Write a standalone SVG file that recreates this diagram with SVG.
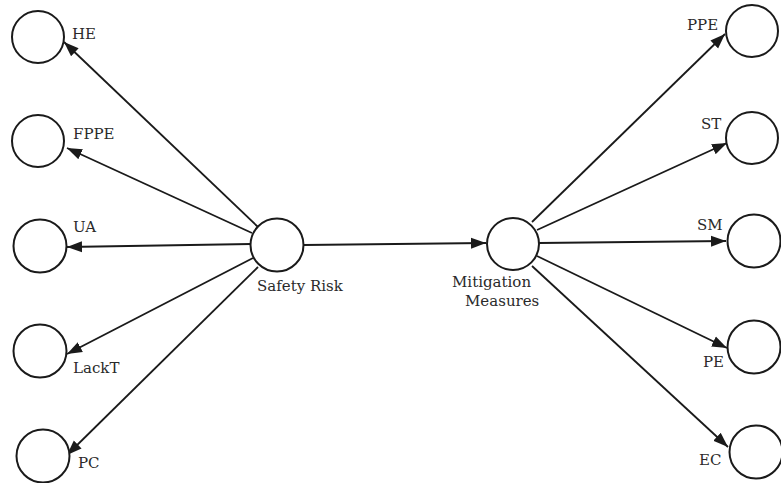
<svg xmlns="http://www.w3.org/2000/svg" width="781" height="483" viewBox="0 0 781 483">
  <style>
    .node circle { fill: #ffffff; stroke: #1a1a1a; stroke-width: 2; }
    .node text { font-family: "DejaVu Serif", "Liberation Serif", serif; font-size: 15px; fill: #2a2a2a; }
    #connectors line { stroke: #1a1a1a; stroke-width: 1.8; marker-end: url(#arrow); }
  </style>
  <defs>
    <marker id="arrow" markerUnits="userSpaceOnUse" markerWidth="16" markerHeight="12" viewBox="0 0 16 12" refX="15" refY="6" orient="auto">
      <path d="M0,0.5 L15,6 L0,11.5 Z" fill="#1a1a1a"/>
    </marker>
  </defs>

  <rect width="781" height="483" fill="#ffffff"/>

  <!-- Connectors -->
  <g id="connectors">
    <line x1="258" y1="227" x2="64" y2="42"/>
    <line x1="252" y1="233" x2="67" y2="148"/>
    <line x1="251" y1="244" x2="67" y2="247"/>
    <line x1="253" y1="258" x2="67" y2="354"/>
    <line x1="258" y1="267" x2="67" y2="455"/>
    <line x1="304" y1="245" x2="486" y2="243"/>
    <line x1="532" y1="222" x2="725" y2="34"/>
    <line x1="537" y1="230" x2="727" y2="143"/>
    <line x1="539" y1="243" x2="726" y2="241"/>
    <line x1="537" y1="256" x2="727" y2="348"/>
    <line x1="532" y1="266" x2="728" y2="447"/>
  </g>

  <!-- Risk factors -->
  <g id="node-he" class="node">
    <circle cx="38" cy="37" r="26"/>
    <text x="72" y="39">HE</text>
  </g>
  <g id="node-fppe" class="node">
    <circle cx="38" cy="141" r="26"/>
    <text x="73" y="139">FPPE</text>
  </g>
  <g id="node-ua" class="node">
    <circle cx="40" cy="246" r="26.5"/>
    <text x="73" y="232">UA</text>
  </g>
  <g id="node-lackt" class="node">
    <circle cx="40" cy="351" r="26.5"/>
    <text x="73" y="373">LackT</text>
  </g>
  <g id="node-pc" class="node">
    <circle cx="43" cy="456" r="26.5"/>
    <text x="78" y="468">PC</text>
  </g>

  <!-- Central constructs -->
  <g id="node-safety-risk" class="node">
    <circle cx="277" cy="245" r="26.5"/>
    <text x="257" y="291">Safety Risk</text>
  </g>
  <g id="node-mitigation" class="node">
    <circle cx="513" cy="244" r="26"/>
    <text x="452" y="287">Mitigation</text>
    <text x="465" y="306">Measures</text>
  </g>

  <!-- Mitigation measures -->
  <g id="node-ppe" class="node">
    <circle cx="752" cy="31" r="26"/>
    <text x="687" y="30">PPE</text>
  </g>
  <g id="node-st" class="node">
    <circle cx="752" cy="138" r="26"/>
    <text x="701" y="129">ST</text>
  </g>
  <g id="node-sm" class="node">
    <circle cx="754" cy="241" r="26.5"/>
    <text x="697" y="230">SM</text>
  </g>
  <g id="node-pe" class="node">
    <circle cx="754" cy="347" r="26.5"/>
    <text x="703" y="367">PE</text>
  </g>
  <g id="node-ec" class="node">
    <circle cx="756" cy="452" r="26.5"/>
    <text x="699" y="465">EC</text>
  </g>
</svg>
